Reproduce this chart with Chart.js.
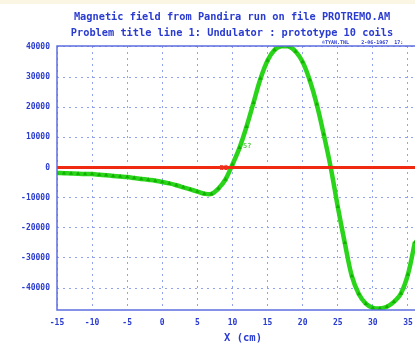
<!DOCTYPE html>
<html>
<head>
<meta charset="utf-8">
<script src="https://cdn.jsdelivr.net/npm/chart.js@4"></script>
<style>
    html, body { margin: 0; padding: 0; background: #fff; overflow: hidden; }
    .strip { position: absolute; left: 0; top: 0; width: 415px; height: 4px; background: #fbf6e4; }
    .wrap { width: 464px; height: 345px; }
</style>
</head>
<body>
<div class="strip"></div>
<div class="wrap"><canvas class="field-chart" width="464" height="345"></canvas></div>
<script>
// positions along the undulator (cm)
const xPositions = [-15, -14, -13, -12, -11, -10, -9, -8, -7, -6, -5, -4, -3, -2, -1, 0, 1, 2, 3, 4, 5, 6, 7, 8, 9, 10,
    11, 12, 13, 14, 15, 16, 17, 18, 19, 20, 21, 22, 23, 24, 25, 26, 27, 28, 29, 30, 31, 32, 33, 34, 35, 36];
// field values
const fieldValues = [-1800, -1900, -2000, -2100, -2150, -2200, -2400, -2600, -2800, -3000, -3200, -3500, -3800, -4100, -4400, -4800,
    -5300, -5900, -6600, -7300, -8000, -8700, -8800, -7000, -4000, 1000,
    6500, 13500, 21500, 29500, 35500, 39000, 40300, 40200, 38500, 35000, 29000, 21000, 11000, 0, -13000, -25000,
    -36000, -42000, -45200, -46600, -46800, -46200, -44600, -41800, -35500, -24700];
// reference line at zero field
const zeroLineX = [-15, 38];
const zeroLineY = [0, 0];
// tick labels
const xTicks = [-15, -10, -5, 0, 5, 10, 15, 20, 25, 30, 35];
const yTicks = [-40000, -30000, -20000, -10000, 0, 10000, 20000, 30000, 40000];
const titleLines = [
    "Magnetic field from Pandira run on file PROTREMO.AM",
    "Problem title line 1: Undulator : prototype 10 coils",
];

const blue = "#2a3bd0";
const gridBlue = "#93a2ee";

const fieldData = xPositions.map((x, i) => ({ x: x, y: fieldValues[i] }));
const zeroData = zeroLineX.map((x, i) => ({ x: x, y: zeroLineY[i] }));

const frameAndNotes = {
    id: "frameAndNotes",
    afterDraw(chart) {
        const { ctx, chartArea, scales } = chart;
        ctx.save();
        ctx.strokeStyle = "#5d6ee0";
        ctx.lineWidth = 1.5;
        ctx.strokeRect(chartArea.left, chartArea.top, chartArea.right - chartArea.left, chartArea.bottom - chartArea.top);

        // header lines
        ctx.fillStyle = blue;
        ctx.textAlign = "center";
        ctx.textBaseline = "middle";
        ctx.font = "bold 10.3px 'DejaVu Sans Mono'";
        ctx.fillText(titleLines[0], 232, 17);
        ctx.fillText(titleLines[1], 232, 33);

        ctx.textAlign = "left";
        ctx.textBaseline = "bottom";
        ctx.font = "bold 5px 'DejaVu Sans Mono'";
        ctx.fillText("©TYAN.TNL    2-06-1967  17:", 322, chartArea.top - 1);
        ctx.font = "bold 7px 'DejaVu Sans Mono'";
        ctx.fillStyle = "#ee3322";
        ctx.fillText("B2", scales.x.getPixelForValue(8.2), scales.y.getPixelForValue(-1500));
        ctx.fillStyle = "#55cc44";
        ctx.fillText("5?", scales.x.getPixelForValue(11.5), scales.y.getPixelForValue(6000));
        ctx.restore();
    },
};

const tickFont = { family: "DejaVu Sans Mono", size: 8, weight: "bold" };

new Chart(document.querySelector(".field-chart").getContext("2d"), {
    type: "line",
    data: {
        datasets: [
            {
                data: zeroData,
                borderColor: "#f02a10",
                borderWidth: 3,
                pointRadius: 0,
                fill: false,
            },
            {
                data: fieldData,
                borderColor: "#2ad41a",
                backgroundColor: "#12b000",
                borderWidth: 4.5,
                pointStyle: "triangle",
                pointRadius: 2.5,
                pointBorderWidth: 0,
                tension: 0.35,
                fill: false,
            },
        ],
    },
    options: {
        responsive: false,
        animation: false,
        devicePixelRatio: 1,
        layout: {
            padding: { left: 0, right: 35, top: 46, bottom: 0 },
        },
        scales: {
            x: {
                type: "linear",
                min: -15,
                max: 38,
                afterFit: (scale) => { scale.height = 35; },
                afterBuildTicks: (scale) => { scale.ticks = xTicks.map((v) => ({ value: v })); },
                grid: {
                    color: gridBlue,
                    drawTicks: false,
                },
                border: { display: false, dash: [2, 4] },
                ticks: {
                    color: blue,
                    padding: 8,
                    font: tickFont,
                },
                title: {
                    display: true,
                    text: "X (cm)",
                    color: blue,
                    padding: { top: 3, bottom: 0 },
                    font: { family: "DejaVu Sans Mono", size: 10.5, weight: "bold" },
                },
            },
            y: {
                type: "linear",
                min: -47300,
                max: 40300,
                afterFit: (scale) => { scale.width = 57; },
                afterBuildTicks: (scale) => { scale.ticks = yTicks.map((v) => ({ value: v })); },
                grid: {
                    color: gridBlue,
                    drawTicks: false,
                },
                border: { display: false, dash: [2, 4] },
                ticks: {
                    color: blue,
                    padding: 7,
                    font: tickFont,
                    callback: (value) => String(value),
                },
            },
        },
        plugins: {
            legend: { display: false },
            tooltip: { enabled: false },
            title: { display: false },
        },
    },
    plugins: [frameAndNotes],
});
</script>
</body>
</html>
